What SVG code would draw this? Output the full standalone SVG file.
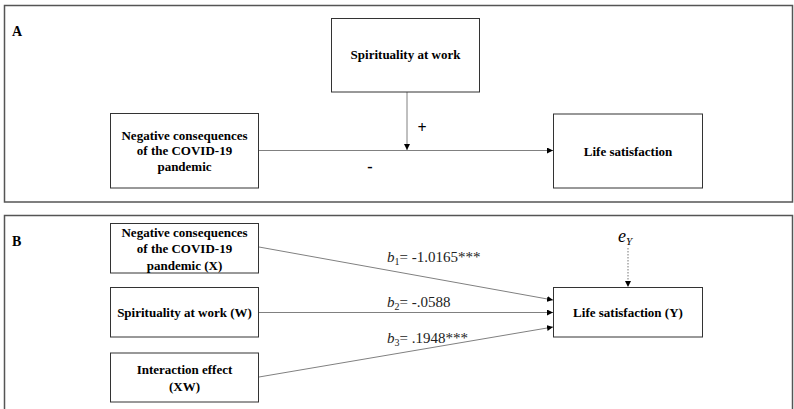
<svg xmlns="http://www.w3.org/2000/svg" width="794" height="409" viewBox="0 0 794 409">
<defs>
<style>
.frame{fill:none;stroke:#555;stroke-width:1.5}
.box{fill:#fff;stroke:#333;stroke-width:1}
.lbl{font-family:"Liberation Serif","Times New Roman",serif;font-weight:bold;font-size:13px;fill:#000;text-anchor:middle}
.sign{font-family:"Liberation Serif","Times New Roman",serif;font-weight:bold;font-size:16px;fill:#000;text-anchor:middle}
.panel{font-family:"Liberation Serif","Times New Roman",serif;font-weight:bold;font-size:14px;fill:#000}
.coef{font-family:"Liberation Serif","Times New Roman",serif;font-size:15px;fill:#222}
.err{font-family:"Liberation Serif","Times New Roman",serif;font-size:18px;font-style:italic;fill:#000}
.conn{stroke:#808080;stroke-width:1;fill:none}
</style>
<marker id="arr" viewBox="0 0 10 10" refX="10" refY="5" markerWidth="6" markerHeight="6" markerUnits="userSpaceOnUse" orient="auto">
<path d="M0,0 L10,5 L0,10 z" fill="#000"/>
</marker>
</defs>
<rect width="794" height="409" fill="#fff"/>

<g id="panelA">
<rect class="frame" x="4.5" y="5.5" width="788" height="196.5"/>
<text class="panel" x="12" y="36">A</text>
</g>
<g id="panelB">
<rect class="frame" x="4.5" y="215.5" width="788" height="200"/>
<text class="panel" x="12" y="246">B</text>
</g>

<g id="connectors">
<line class="conn" x1="259" y1="150.5" x2="553" y2="150.5" marker-end="url(#arr)"/>
<line class="conn" x1="407" y1="92" x2="407" y2="150" marker-end="url(#arr)"/>
<line class="conn" x1="259" y1="247" x2="553" y2="300" marker-end="url(#arr)"/>
<line class="conn" x1="259" y1="312.5" x2="553" y2="312.5" marker-end="url(#arr)"/>
<line class="conn" x1="259" y1="377" x2="553" y2="327" marker-end="url(#arr)"/>
<line x1="628" y1="248" x2="628" y2="287" stroke="#777" stroke-width="1" stroke-dasharray="1.5,1.5" marker-end="url(#arr)"/>
<text x="422" y="133" class="sign">+</text>
<text x="370" y="172" class="sign">-</text>
<text class="coef" x="387" y="262"><tspan font-style="italic">b</tspan><tspan font-size="10" dy="3">1</tspan><tspan dy="-3">= -1.0165***</tspan></text>
<text class="coef" x="387" y="307"><tspan font-style="italic">b</tspan><tspan font-size="10" dy="3">2</tspan><tspan dy="-3">= -.0588</tspan></text>
<text class="coef" x="387" y="343"><tspan font-style="italic">b</tspan><tspan font-size="10" dy="3">3</tspan><tspan dy="-3">= .1948***</tspan></text>
<text class="err" x="618" y="242">e<tspan style="font-size:11px" dy="3">Y</tspan></text>
</g>

<g id="A_spirituality">
<rect class="box" x="331.5" y="18.5" width="148" height="73.5"/>
<text class="lbl" x="405.5" y="59">Spirituality at work</text>
</g>
<g id="A_negative">
<rect class="box" x="110.5" y="113.5" width="148" height="74.5"/>
<text class="lbl" x="184.5" y="139.5">Negative consequences</text>
<text class="lbl" x="184.5" y="155">of the COVID-19</text>
<text class="lbl" x="184.5" y="170.5">pandemic</text>
</g>
<g id="A_life">
<rect class="box" x="553.5" y="114" width="149" height="74"/>
<text class="lbl" x="628" y="156">Life satisfaction</text>
</g>

<g id="B_negative">
<rect class="box" x="110.5" y="223.5" width="148" height="49.5"/>
<text class="lbl" x="184.5" y="237">Negative consequences</text>
<text class="lbl" x="184.5" y="253.3">of the COVID-19</text>
<text class="lbl" x="184.5" y="269.5">pandemic (X)</text>
</g>
<g id="B_spirituality">
<rect class="box" x="110.5" y="287.5" width="148" height="49.5"/>
<text class="lbl" x="184.5" y="317">Spirituality at work (W)</text>
</g>
<g id="B_interaction">
<rect class="box" x="110.5" y="353" width="148" height="49"/>
<text class="lbl" x="184.5" y="374">Interaction effect</text>
<text class="lbl" x="184.5" y="391">(XW)</text>
</g>
<g id="B_life">
<rect class="box" x="553.5" y="287.5" width="149" height="49.5"/>
<text class="lbl" x="628" y="317">Life satisfaction (Y)</text>
</g>
</svg>
